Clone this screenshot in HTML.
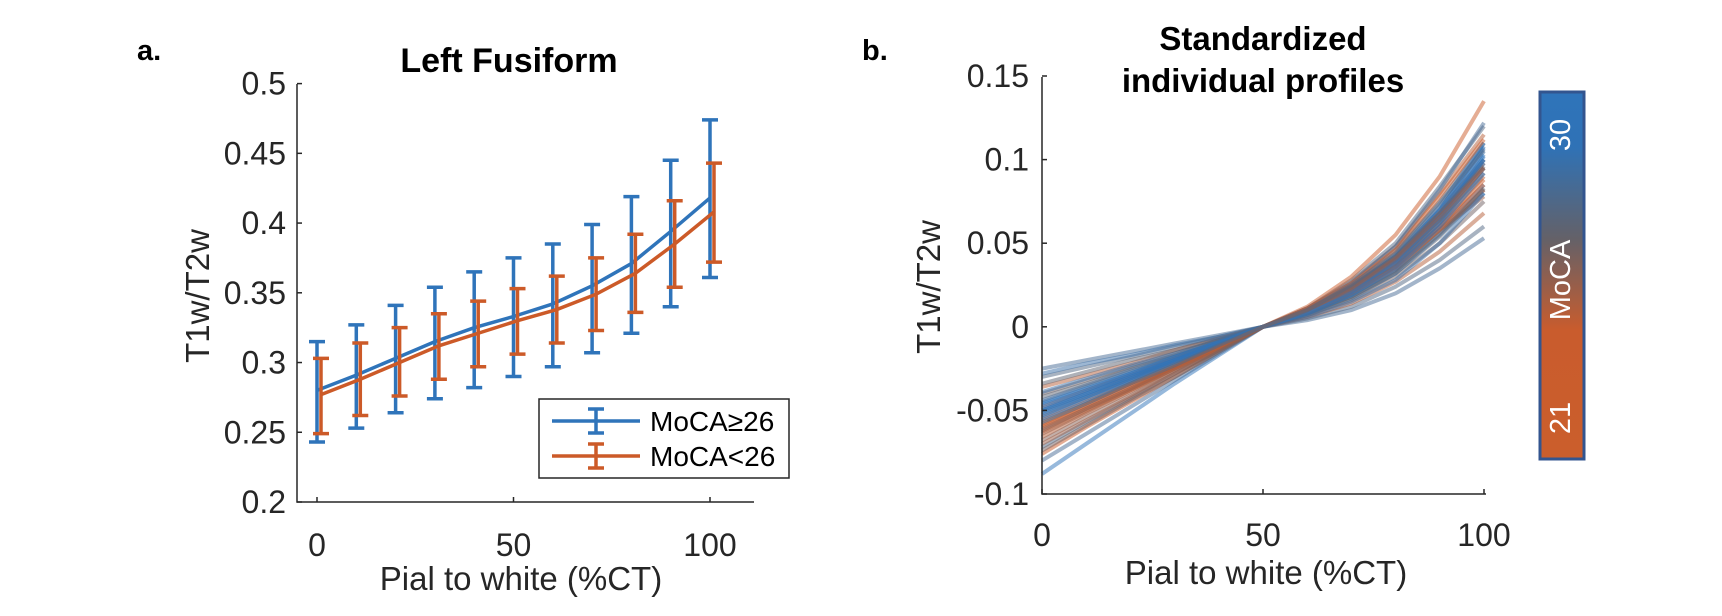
<!DOCTYPE html>
<html><head><meta charset="utf-8"><style>
html,body{margin:0;padding:0;background:#fff;}
svg{display:block;font-family:"Liberation Sans",Arial,sans-serif;}
</style></head><body>
<svg id="fig" width="1722" height="616" viewBox="0 0 1722 616">
<defs>
<linearGradient id="cbg" x1="0" y1="0" x2="0" y2="1">
<stop offset="0" stop-color="#2f74ba"/><stop offset="0.15" stop-color="#2f72b6"/>
<stop offset="0.4" stop-color="#646168"/><stop offset="0.65" stop-color="#c95c2d"/>
<stop offset="1" stop-color="#cb5e2c"/></linearGradient>
</defs>
<text x="137" y="60" font-size="29" font-weight="bold">a.</text>
<text x="862" y="60" font-size="29" font-weight="bold">b.</text>
<g id="left"></g>
<g id="right"></g>
<g>
<rect x="1540" y="92" width="44" height="367" fill="url(#cbg)" stroke="#33558f" stroke-width="3"/>
<text transform="translate(1570,135) rotate(-90)" text-anchor="middle" font-size="29" fill="#fff">30</text>
<text transform="translate(1570,280) rotate(-90)" text-anchor="middle" font-size="29" fill="#fff">MoCA</text>
<text transform="translate(1570,418) rotate(-90)" text-anchor="middle" font-size="29" fill="#fff">21</text>
</g>
</svg>
<script>
const NS="http://www.w3.org/2000/svg";
// Left chart data
const depthX=[0,10,20,30,40,50,60,70,80,90,100];
const highMean=[0.280,0.291,0.303,0.315,0.325,0.333,0.342,0.355,0.371,0.394,0.418];
const highUpper=[0.315,0.327,0.341,0.354,0.365,0.375,0.385,0.399,0.419,0.445,0.474];
const highLower=[0.243,0.253,0.264,0.274,0.282,0.290,0.297,0.307,0.321,0.340,0.361];
const lowMean=[0.277,0.288,0.300,0.312,0.321,0.330,0.338,0.349,0.364,0.385,0.408];
const lowUpper=[0.303,0.314,0.325,0.335,0.344,0.353,0.362,0.375,0.392,0.416,0.443];
const lowLower=[0.249,0.262,0.276,0.288,0.297,0.306,0.314,0.323,0.336,0.354,0.372];
const leftYTicks=[0.2,0.25,0.3,0.35,0.4,0.45,0.5];
const leftYTickLabels=["0.2","0.25","0.3","0.35","0.4","0.45","0.5"];
const xTicks=[0,50,100];
const xTickLabels=["0","50","100"];
// Right chart data
const rightYTicks=[-0.1,-0.05,0,0.05,0.1,0.15];
const rightYTickLabels=["-0.1","-0.05","0","0.05","0.1","0.15"];
const profileMoca=[28,27,22,25,30,21,29,23,24,26,22,27,21,30,28,29,23,26,
 30,29,30,22,21,28,30,24,23,29,30,22,26,30,21,25,29,30,23,27];
const profiles=[
[-0.025,-0.020,-0.015,-0.010,-0.005,0,0.004,0.010,0.020,0.035,0.053],
[-0.030,-0.024,-0.018,-0.012,-0.006,0,0.005,0.012,0.024,0.040,0.060],
[-0.036,-0.029,-0.022,-0.014,-0.007,0,0.006,0.014,0.027,0.045,0.068],
[-0.040,-0.032,-0.024,-0.016,-0.008,0,0.007,0.016,0.030,0.050,0.075],
[-0.045,-0.036,-0.027,-0.018,-0.009,0,0.008,0.019,0.034,0.058,0.085],
[-0.048,-0.038,-0.029,-0.019,-0.010,0,0.008,0.020,0.036,0.060,0.088],
[-0.050,-0.040,-0.030,-0.020,-0.010,0,0.009,0.022,0.040,0.068,0.105],
[-0.054,-0.043,-0.032,-0.021,-0.011,0,0.009,0.022,0.039,0.064,0.095],
[-0.058,-0.046,-0.034,-0.023,-0.011,0,0.010,0.024,0.042,0.070,0.100],
[-0.062,-0.049,-0.037,-0.025,-0.012,0,0.010,0.025,0.045,0.075,0.110],
[-0.066,-0.052,-0.039,-0.026,-0.013,0,0.011,0.027,0.048,0.080,0.115],
[-0.072,-0.057,-0.043,-0.028,-0.014,0,0.011,0.028,0.050,0.084,0.120],
[-0.076,-0.060,-0.045,-0.030,-0.015,0,0.012,0.030,0.055,0.090,0.135],
[-0.088,-0.070,-0.052,-0.034,-0.017,0,0.008,0.018,0.032,0.055,0.080],
[-0.080,-0.064,-0.048,-0.032,-0.016,0,0.011,0.026,0.048,0.082,0.122],
[-0.052,-0.042,-0.031,-0.021,-0.010,0,0.009,0.023,0.041,0.070,0.108],
[-0.064,-0.051,-0.038,-0.025,-0.013,0,0.010,0.024,0.042,0.068,0.098],
[-0.042,-0.034,-0.025,-0.017,-0.008,0,0.008,0.018,0.033,0.056,0.082],
[-0.049,-0.039,-0.029,-0.020,-0.010,0,0.009,0.022,0.040,0.067,0.103],
[-0.051,-0.041,-0.031,-0.020,-0.010,0,0.009,0.021,0.038,0.065,0.100],
[-0.047,-0.038,-0.028,-0.019,-0.009,0,0.009,0.023,0.042,0.070,0.107],
[-0.056,-0.045,-0.034,-0.022,-0.011,0,0.009,0.021,0.038,0.062,0.090],
[-0.060,-0.048,-0.036,-0.024,-0.012,0,0.009,0.022,0.038,0.060,0.085],
[-0.044,-0.035,-0.026,-0.018,-0.009,0,0.008,0.020,0.036,0.062,0.095],
[-0.053,-0.042,-0.032,-0.021,-0.011,0,0.009,0.022,0.040,0.066,0.102],
[-0.068,-0.054,-0.041,-0.027,-0.014,0,0.010,0.023,0.040,0.064,0.092],
[-0.070,-0.056,-0.042,-0.028,-0.014,0,0.009,0.021,0.036,0.058,0.078],
[-0.039,-0.031,-0.023,-0.016,-0.008,0,0.008,0.020,0.037,0.063,0.098],
[-0.055,-0.044,-0.033,-0.022,-0.011,0,0.010,0.024,0.043,0.072,0.110],
[-0.063,-0.050,-0.038,-0.025,-0.013,0,0.009,0.020,0.035,0.058,0.082],
[-0.034,-0.027,-0.020,-0.014,-0.007,0,0.007,0.017,0.032,0.054,0.083],
[-0.046,-0.037,-0.028,-0.018,-0.009,0,0.009,0.021,0.039,0.066,0.100],
[-0.059,-0.047,-0.035,-0.024,-0.012,0,0.011,0.026,0.046,0.078,0.112],
[-0.074,-0.059,-0.044,-0.030,-0.015,0,0.010,0.024,0.042,0.068,0.096],
[-0.028,-0.022,-0.017,-0.011,-0.006,0,0.006,0.015,0.028,0.050,0.080],
[-0.050,-0.040,-0.030,-0.020,-0.010,0,0.008,0.019,0.035,0.060,0.092],
[-0.061,-0.049,-0.037,-0.024,-0.012,0,0.010,0.023,0.041,0.066,0.095],
[-0.057,-0.046,-0.034,-0.023,-0.011,0,0.010,0.025,0.044,0.074,0.106]
];
function mk(p,tag,attrs){const e=document.createElementNS(NS,tag);for(const k in attrs)e.setAttribute(k,attrs[k]);p.appendChild(e);return e;}
const BLUE="#2f74ba",ORANGE="#cc5a28";
// ---- Left chart ----
const L=document.getElementById('left');
const lx=v=>317+(v/100)*393, ly=v=>502-(v-0.2)/0.3*418.4;
let ax=mk(L,'path',{d:"M297,84 L297,502 L754,502",fill:"none",stroke:"#262626","stroke-width":1.5});


leftYTicks.forEach((t,i)=>{
 let tk=mk(L,'line',{x1:297,x2:302,y1:ly(t),y2:ly(t),stroke:"#262626","stroke-width":1.5});
 
 
 let tl=mk(L,'text',{x:286,y:ly(t)+11,"text-anchor":"end","font-size":32,fill:"#262626"});tl.textContent=leftYTickLabels[i];
 
 
});
xTicks.forEach((t,i)=>{
 let tk=mk(L,'line',{x1:lx(t),x2:lx(t),y1:502,y2:497,stroke:"#262626","stroke-width":1.5});
 
 
 let tl=mk(L,'text',{x:lx(t),y:556,"text-anchor":"middle","font-size":32,fill:"#262626"});tl.textContent=xTickLabels[i];
 
 
});
function series(mean,up,lo,col,off,name){
 const g=mk(L,'g',{});
 
 
 let d=mean.map((v,i)=>(i?'L':'M')+(lx(depthX[i])+off)+','+ly(v)).join(' ');
 let pl=mk(g,'path',{d:d,fill:"none",stroke:col,"stroke-width":3.5});
 
 
 depthX.forEach((x,i)=>{
  const X=lx(x)+off,a=ly(up[i]),b=ly(lo[i]);
  let e=mk(g,'path',{d:`M${X},${a} L${X},${b} M${X-8},${a} L${X+8},${a} M${X-8},${b} L${X+8},${b}`,fill:"none",stroke:col,"stroke-width":3.5});
  
  
 });
}
series(highMean,highUpper,highLower,BLUE,0,'moca-high-series');
series(lowMean,lowUpper,lowLower,ORANGE,4,'moca-low-series');
let t1=mk(L,'text',{x:509,y:72,"text-anchor":"middle","font-size":34,"font-weight":"bold"});t1.textContent="Left Fusiform";


let yl=mk(L,'text',{transform:"translate(209,296) rotate(-90)","text-anchor":"middle","font-size":33,fill:"#262626"});yl.textContent="T1w/T2w";


let xl=mk(L,'text',{x:521,y:590,"text-anchor":"middle","font-size":33,fill:"#262626"});xl.textContent="Pial to white (%CT)";


// legend
const lg=mk(L,'g',{});


mk(lg,'rect',{x:539,y:399,width:250,height:79,fill:"#fff",stroke:"#262626","stroke-width":1.5});
[[BLUE,"MoCA≥26",421],[ORANGE,"MoCA<26",456]].forEach(([c,s,y])=>{
 const e=mk(lg,'g',{});
 
 
 mk(e,'path',{d:`M552,${y} L640,${y} M596,${y-12} L596,${y+12} M588,${y-12} L604,${y-12} M588,${y+12} L604,${y+12}`,stroke:c,"stroke-width":3.5,fill:"none"});
 const t=mk(e,'text',{x:650,y:y+10,"font-size":28,fill:"#000"});t.textContent=s;
});
// ---- Right chart ----
const R=document.getElementById('right');
const rx=v=>1042+(v/100)*442, ry=v=>494-(v+0.1)/0.25*418;
function mocaColor(m){
 const t=(m-21)/9;const a=[204,92,42],b=[100,97,104],c=[47,116,186];
 let r;if(t<0.5){const u=t/0.5;r=a.map((v,i)=>v+(b[i]-v)*u);}else{const u=(t-0.5)/0.5;r=b.map((v,i)=>v+(c[i]-v)*u);}
 return `rgb(${r.map(Math.round).join(',')})`;
}
profiles.forEach((p,k)=>{
 const d=p.map((v,i)=>(i?'L':'M')+rx(depthX[i])+','+ry(v)).join(' ');
 const pl=mk(R,'path',{d:d,fill:"none",stroke:mocaColor(profileMoca[k]),"stroke-width":4,"stroke-opacity":0.5});
 
 
});
let ax2=mk(R,'path',{d:"M1042,77 L1042,494 L1486,494",fill:"none",stroke:"#262626","stroke-width":1.5});


rightYTicks.forEach((t,i)=>{
 let tk=mk(R,'line',{x1:1042,x2:1047,y1:ry(t),y2:ry(t),stroke:"#262626","stroke-width":1.5});
 
 
 let tl=mk(R,'text',{x:1029,y:ry(t)+11,"text-anchor":"end","font-size":32,fill:"#262626"});tl.textContent=rightYTickLabels[i];
 
 
});
xTicks.forEach((t,i)=>{
 let tk=mk(R,'line',{x1:rx(t),x2:rx(t),y1:494,y2:489,stroke:"#262626","stroke-width":1.5});
 
 
 let tl=mk(R,'text',{x:rx(t),y:546,"text-anchor":"middle","font-size":32,fill:"#262626"});tl.textContent=xTickLabels[i];
 
 
});
let t2=mk(R,'text',{x:1263,y:50,"text-anchor":"middle","font-size":33,"font-weight":"bold"});t2.textContent="Standardized";


let t3=mk(R,'text',{x:1263,y:92,"text-anchor":"middle","font-size":33,"font-weight":"bold"});t3.textContent="individual profiles";


let yl2=mk(R,'text',{transform:"translate(940,287) rotate(-90)","text-anchor":"middle","font-size":33,fill:"#262626"});yl2.textContent="T1w/T2w";


let xl2=mk(R,'text',{x:1266,y:584,"text-anchor":"middle","font-size":33,fill:"#262626"});xl2.textContent="Pial to white (%CT)";


</script>
</body></html>
